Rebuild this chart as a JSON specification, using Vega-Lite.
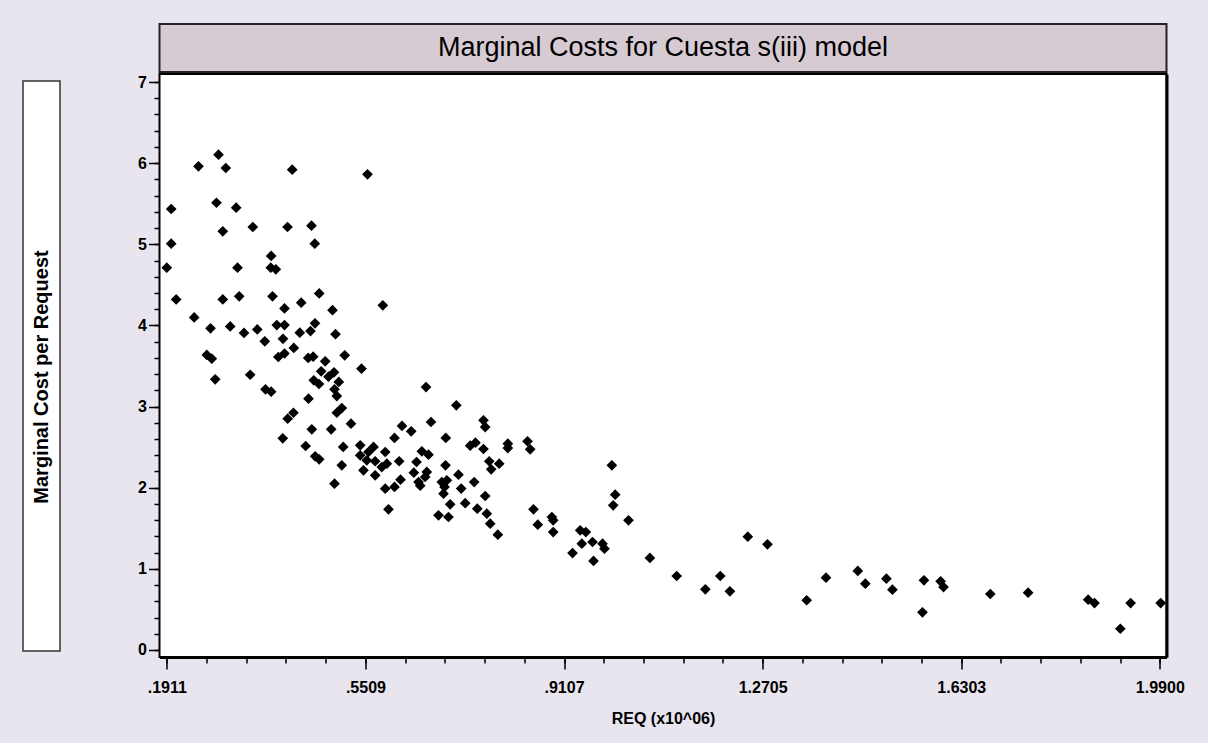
{
  "$schema": "https://vega.github.io/schema/vega-lite/v6.json",
  "background": "#E8E5EE",
  "padding": {"left": 22, "top": 23, "right": 22, "bottom": 16},
  "config": {"view": {"stroke": null}, "font": "Liberation Sans"},
  "datasets": {
    "pts": [
      {"req": 0.2848, "mc": 6.104}, {"req": 0.2485, "mc": 5.961}, {"req": 0.2980, "mc": 5.940}, {"req": 0.4183, "mc": 5.919},
      {"req": 0.5547, "mc": 5.862}, {"req": 0.1991, "mc": 5.435}, {"req": 0.2811, "mc": 5.512}, {"req": 0.3168, "mc": 5.451},
      {"req": 0.2925, "mc": 5.160}, {"req": 0.3469, "mc": 5.213}, {"req": 0.4098, "mc": 5.213}, {"req": 0.4532, "mc": 5.229},
      {"req": 0.1991, "mc": 5.007}, {"req": 0.4592, "mc": 5.007}, {"req": 0.3802, "mc": 4.856}, {"req": 0.1911, "mc": 4.711},
      {"req": 0.3192, "mc": 4.711}, {"req": 0.3795, "mc": 4.711}, {"req": 0.3886, "mc": 4.692}, {"req": 0.2081, "mc": 4.320},
      {"req": 0.2925, "mc": 4.320}, {"req": 0.3223, "mc": 4.359}, {"req": 0.3826, "mc": 4.359}, {"req": 0.4043, "mc": 4.209},
      {"req": 0.4346, "mc": 4.280}, {"req": 0.4672, "mc": 4.394}, {"req": 0.4913, "mc": 4.188}, {"req": 0.5824, "mc": 4.248},
      {"req": 0.2407, "mc": 4.098}, {"req": 0.2703, "mc": 3.965}, {"req": 0.3060, "mc": 3.987}, {"req": 0.3310, "mc": 3.907},
      {"req": 0.3550, "mc": 3.950}, {"req": 0.3904, "mc": 4.005}, {"req": 0.4043, "mc": 4.005}, {"req": 0.3686, "mc": 3.804},
      {"req": 0.4016, "mc": 3.835}, {"req": 0.4320, "mc": 3.910}, {"req": 0.4514, "mc": 3.931}, {"req": 0.4596, "mc": 4.026},
      {"req": 0.4967, "mc": 3.892}, {"req": 0.2636, "mc": 3.636}, {"req": 0.2726, "mc": 3.590}, {"req": 0.3931, "mc": 3.611},
      {"req": 0.4043, "mc": 3.654}, {"req": 0.4212, "mc": 3.722}, {"req": 0.4473, "mc": 3.599}, {"req": 0.4563, "mc": 3.615},
      {"req": 0.4781, "mc": 3.558}, {"req": 0.4708, "mc": 3.435}, {"req": 0.4840, "mc": 3.368}, {"req": 0.4940, "mc": 3.422},
      {"req": 0.5027, "mc": 3.303}, {"req": 0.2788, "mc": 3.336}, {"req": 0.3422, "mc": 3.392}, {"req": 0.4574, "mc": 3.324},
      {"req": 0.4668, "mc": 3.278}, {"req": 0.5134, "mc": 3.632}, {"req": 0.5438, "mc": 3.467}, {"req": 0.3699, "mc": 3.213},
      {"req": 0.3802, "mc": 3.183}, {"req": 0.4949, "mc": 3.213}, {"req": 0.4991, "mc": 3.130}, {"req": 0.4478, "mc": 3.097},
      {"req": 0.4206, "mc": 2.924}, {"req": 0.4101, "mc": 2.851}, {"req": 0.5081, "mc": 2.982}, {"req": 0.4991, "mc": 2.924},
      {"req": 0.5248, "mc": 2.789}, {"req": 0.4538, "mc": 2.720}, {"req": 0.4889, "mc": 2.720}, {"req": 0.4012, "mc": 2.609},
      {"req": 0.4427, "mc": 2.514}, {"req": 0.5107, "mc": 2.502}, {"req": 0.4599, "mc": 2.387}, {"req": 0.4672, "mc": 2.350},
      {"req": 0.5081, "mc": 2.276}, {"req": 0.4949, "mc": 2.049}, {"req": 0.6607, "mc": 3.241}, {"req": 0.7156, "mc": 3.016},
      {"req": 0.5415, "mc": 2.523}, {"req": 0.5656, "mc": 2.502}, {"req": 0.5415, "mc": 2.399}, {"req": 0.5565, "mc": 2.440},
      {"req": 0.5534, "mc": 2.338}, {"req": 0.5686, "mc": 2.326}, {"req": 0.5474, "mc": 2.215}, {"req": 0.5868, "mc": 2.440},
      {"req": 0.5897, "mc": 2.296}, {"req": 0.5806, "mc": 2.255}, {"req": 0.5686, "mc": 2.153}, {"req": 0.5868, "mc": 1.988},
      {"req": 0.6036, "mc": 2.009}, {"req": 0.5927, "mc": 1.734}, {"req": 0.6036, "mc": 2.613}, {"req": 0.6121, "mc": 2.326},
      {"req": 0.6145, "mc": 2.099}, {"req": 0.6172, "mc": 2.761}, {"req": 0.6339, "mc": 2.695}, {"req": 0.6386, "mc": 2.185},
      {"req": 0.6435, "mc": 2.317}, {"req": 0.6531, "mc": 2.449}, {"req": 0.6652, "mc": 2.407}, {"req": 0.6621, "mc": 2.194},
      {"req": 0.6592, "mc": 2.132}, {"req": 0.6471, "mc": 2.070}, {"req": 0.6502, "mc": 2.025}, {"req": 0.6697, "mc": 2.810},
      {"req": 0.6833, "mc": 1.660}, {"req": 0.7014, "mc": 1.639}, {"req": 0.6893, "mc": 2.070}, {"req": 0.6984, "mc": 2.091},
      {"req": 0.6942, "mc": 2.009}, {"req": 0.6924, "mc": 1.926}, {"req": 0.6960, "mc": 2.276}, {"req": 0.6965, "mc": 2.613},
      {"req": 0.7045, "mc": 1.796}, {"req": 0.7195, "mc": 2.160}, {"req": 0.7244, "mc": 1.990}, {"req": 0.7317, "mc": 1.809},
      {"req": 0.7407, "mc": 2.518}, {"req": 0.7503, "mc": 2.555}, {"req": 0.7480, "mc": 2.070}, {"req": 0.7536, "mc": 1.741},
      {"req": 0.7648, "mc": 2.831}, {"req": 0.7679, "mc": 2.748}, {"req": 0.7648, "mc": 2.477}, {"req": 0.7679, "mc": 1.898},
      {"req": 0.7708, "mc": 1.680}, {"req": 0.7752, "mc": 2.326}, {"req": 0.7788, "mc": 2.227}, {"req": 0.7770, "mc": 1.557},
      {"req": 0.7908, "mc": 1.421}, {"req": 0.7933, "mc": 2.296}, {"req": 0.8089, "mc": 2.542}, {"req": 0.8089, "mc": 2.489},
      {"req": 0.8446, "mc": 2.572}, {"req": 0.8494, "mc": 2.473}, {"req": 0.8554, "mc": 1.734}, {"req": 0.8632, "mc": 1.544},
      {"req": 0.8886, "mc": 1.639}, {"req": 0.8911, "mc": 1.598}, {"req": 0.8911, "mc": 1.454}, {"req": 0.9261, "mc": 1.195},
      {"req": 0.9400, "mc": 1.475}, {"req": 0.9502, "mc": 1.454}, {"req": 0.9429, "mc": 1.310}, {"req": 0.9623, "mc": 1.331},
      {"req": 0.9804, "mc": 1.310}, {"req": 0.9840, "mc": 1.248}, {"req": 0.9641, "mc": 1.097}, {"req": 0.9973, "mc": 2.276},
      {"req": 1.0034, "mc": 1.914}, {"req": 0.9998, "mc": 1.783}, {"req": 1.0275, "mc": 1.598}, {"req": 1.0663, "mc": 1.134},
      {"req": 1.1148, "mc": 0.912}, {"req": 1.1667, "mc": 0.748}, {"req": 1.1938, "mc": 0.912}, {"req": 1.2112, "mc": 0.723},
      {"req": 1.2436, "mc": 1.396}, {"req": 1.2792, "mc": 1.303}, {"req": 1.3503, "mc": 0.613}, {"req": 1.3853, "mc": 0.891},
      {"req": 1.4429, "mc": 0.974}, {"req": 1.4565, "mc": 0.817}, {"req": 1.4947, "mc": 0.879}, {"req": 1.5056, "mc": 0.743},
      {"req": 1.5627, "mc": 0.859}, {"req": 1.5600, "mc": 0.465}, {"req": 1.5929, "mc": 0.847}, {"req": 1.5982, "mc": 0.776},
      {"req": 1.6829, "mc": 0.690}, {"req": 1.7514, "mc": 0.706}, {"req": 1.8602, "mc": 0.620}, {"req": 1.8717, "mc": 0.579},
      {"req": 1.9185, "mc": 0.262}, {"req": 1.9371, "mc": 0.579}, {"req": 1.9915, "mc": 0.579}
    ]
  },
  "spacing": 75.5,
  "hconcat": [
    {
      "spacing": 0,
      "vconcat": [
        {
          "width": 37, "height": 56,
          "view": {"stroke": null, "fill": null},
          "data": {"values": [{"t": ""}]},
          "mark": {"type": "text"},
          "encoding": {"text": {"field": "t"}}
        },
        {
          "width": 37, "height": 570,
          "view": {"stroke": "#333333", "strokeWidth": 1.5, "fill": "white"},
          "data": {"values": [{"t": "Marginal Cost per Request"}]},
          "mark": {"type": "text", "angle": 270, "fontWeight": "bold", "fontSize": 20, "font": "Liberation Sans", "color": "black", "baseline": "middle", "align": "center", "dx": -11},
          "encoding": {"text": {"field": "t"}}
        }
      ]
    },
    {
      "spacing": 0,
      "vconcat": [
        {
          "width": 1007, "height": 48,
          "view": {"stroke": "#222222", "strokeWidth": 2, "fill": "#D7CBD3"},
          "data": {"values": [{"t": "Marginal Costs for Cuesta s(iii) model"}]},
          "mark": {"type": "text", "fontSize": 27, "font": "Liberation Sans", "color": "black", "baseline": "middle", "align": "center"},
          "encoding": {"text": {"field": "t"}}
        },
        {
          "width": 1007, "height": 583,
          "view": {"stroke": "black", "strokeWidth": 2, "fill": "white"},
          "data": {"name": "pts"},
          "layer": [
            {
              "mark": {"type": "point", "shape": "diamond", "filled": true, "color": "black", "size": 115, "opacity": 1, "strokeWidth": 0},
              "encoding": {
                "x": {
                  "field": "req", "type": "quantitative",
                  "scale": {"domain": [0.1779, 2.0021], "nice": false, "zero": false},
                  "axis": {
                    "orient": "bottom",
                    "values": [0.1911, 0.5509, 0.9107, 1.2705, 1.6303, 1.99],
                    "labelExpr": "replace(format(datum.value, '.4f'), regexp('^0'), '')",
                    "grid": false,
                    "domain": true, "domainColor": "black", "domainWidth": 3,
                    "ticks": true, "tickSize": 12, "tickWidth": 1.5, "tickColor": "black",
                    "labelFont": "Liberation Sans", "labelFontSize": 16, "labelFontWeight": "bold", "labelColor": "black",
                    "labelPadding": 10, "labelFlush": false, "labelOverlap": false,
                    "title": "REQ (x10^06)",
                    "titleFont": "Liberation Sans", "titleFontSize": 16, "titleFontWeight": "bold", "titleColor": "black",
                    "titlePadding": 15
                  }
                },
                "y": {
                  "field": "mc", "type": "quantitative",
                  "scale": {"domain": [-0.0863, 7.0986], "nice": false, "zero": false},
                  "axis": {
                    "orient": "left",
                    "values": [0, 1, 2, 3, 4, 5, 6, 7],
                    "format": "d",
                    "grid": false,
                    "domain": false,
                    "ticks": true, "tickSize": 11, "tickWidth": 1.5, "tickColor": "black",
                    "labelFont": "Liberation Sans", "labelFontSize": 16, "labelFontWeight": "bold", "labelColor": "black",
                    "labelPadding": 2, "labelOverlap": false,
                    "title": null
                  }
                }
              }
            },
            {
              "mark": {"type": "point", "opacity": 0},
              "encoding": {
                "x": {
                  "field": "req", "type": "quantitative",
                  "axis": {
                    "orient": "bottom",
                    "values": [0.1911, 0.26306, 0.33502, 0.40698, 0.47894, 0.5509, 0.62286, 0.69482, 0.76678, 0.83874, 0.9107, 0.98266, 1.05462, 1.12658, 1.19854, 1.2705, 1.34246, 1.41442, 1.48638, 1.55834, 1.6303, 1.70226, 1.77422, 1.84618, 1.91814, 1.99],
                    "grid": false, "domain": false, "labels": false,
                    "ticks": true, "tickSize": 6, "tickWidth": 1.5, "tickColor": "black",
                    "title": null
                  }
                },
                "y": {
                  "field": "mc", "type": "quantitative",
                  "axis": {
                    "orient": "left",
                    "values": [0, 0.2, 0.4, 0.6, 0.8, 1, 1.2, 1.4, 1.6, 1.8, 2, 2.2, 2.4, 2.6, 2.8, 3, 3.2, 3.4, 3.6, 3.8, 4, 4.2, 4.4, 4.6, 4.8, 5, 5.2, 5.4, 5.6, 5.8, 6, 6.2, 6.4, 6.6, 6.8, 7],
                    "grid": false, "domain": false, "labels": false,
                    "ticks": true, "tickSize": 5.5, "tickWidth": 1.5, "tickColor": "black",
                    "title": null
                  }
                }
              }
            },
            {
              "mark": {"type": "point", "opacity": 0},
              "encoding": {
                "x": {"field": "req", "type": "quantitative", "axis": null},
                "y": {
                  "field": "mc", "type": "quantitative",
                  "axis": {
                    "orient": "right",
                    "grid": false, "domain": true, "domainColor": "black", "domainWidth": 3,
                    "labels": false, "ticks": false, "title": null
                  }
                }
              }
            }
          ],
          "resolve": {"axis": {"x": "independent", "y": "independent"}}
        }
      ]
    }
  ]
}
